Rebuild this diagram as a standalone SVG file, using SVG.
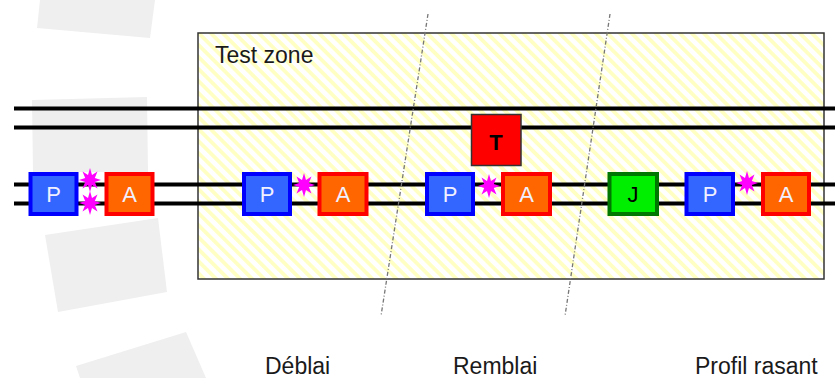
<svg xmlns="http://www.w3.org/2000/svg" width="835" height="378" viewBox="0 0 835 378">
  <style>
    .mark { fill: #efefef; }
    .rail { stroke: #000; stroke-width: 4; }
    .lbl { font-family: "Liberation Sans", Arial, sans-serif; font-size: 23px; fill: #1a1a1a; }
    .box-txt { font-family: "Liberation Sans", Arial, sans-serif; font-size: 22px; text-anchor: middle; }
    .p rect { fill: #3366ff; stroke: #0000ff; stroke-width: 4; }
    .a rect { fill: #ff6600; stroke: #ff0000; stroke-width: 4; }
    .j rect { fill: #00ee00; stroke: #007700; stroke-width: 4; }
    .t rect { fill: #ff0000; stroke: #333; stroke-width: 1.5; }
    .light { fill: #f0f0ff; }
    .dark { fill: #000; }
    .split { stroke: #777; stroke-width: 1.3; stroke-dasharray: 4 2 1 2; fill: none; }
  </style>
  <defs>
    <pattern id="hatch" width="8.5" height="8.5" patternUnits="userSpaceOnUse" patternTransform="rotate(45)">
      <rect width="8.5" height="8.5" fill="#ffffff"/>
      <rect width="8.5" height="3.8" fill="#ffffc4"/>
    </pattern>
    <polygon id="burst" fill="#ff00ff" points="0,-12 2,-5 7.5,-8.5 4.8,-2 11,0 4.8,2 7.5,8.5 2,5 0,12 -2,5 -7.5,8.5 -4.8,2 -11,0 -4.8,-2 -7.5,-8.5 -2,-5"/>
  </defs>

  <!-- faint background marks -->
  <g id="background">
    <polygon class="mark" points="40,0 155,0 150,38 37,28"/>
    <polygon class="mark" points="32,100 147,97 148,172 33,172"/>
    <polygon class="mark" points="45,235 158,218 167,292 58,312"/>
    <polygon class="mark" points="76,366 186,332 206,378 80,378"/>
  </g>

  <!-- test zone area -->
  <g id="test-zone">
    <rect x="198" y="33" width="626" height="246" fill="url(#hatch)" stroke="#333" stroke-width="1.5"/>
    <text class="lbl" x="215" y="63">Test zone</text>
  </g>

  <!-- rails and section dividers -->
  <g id="connectors">
    <line class="rail" x1="14" y1="108.5" x2="835" y2="108.5"/>
    <line class="rail" x1="14" y1="127.5" x2="835" y2="127.5"/>
    <line class="rail" x1="14" y1="184.5" x2="835" y2="184.5"/>
    <line class="rail" x1="14" y1="203.5" x2="835" y2="203.5"/>
    <line class="split" x1="428" y1="14" x2="381" y2="316"/>
    <line class="split" x1="610" y1="14" x2="565" y2="316"/>
  </g>

  <!-- outside group -->
  <g id="p1" class="p"><rect x="30.5" y="174" width="46" height="40"/><text class="box-txt light" x="53.5" y="201.5">P</text></g>
  <g id="a1" class="a"><rect x="106.5" y="174" width="46" height="40"/><text class="box-txt light" x="129.5" y="201.5">A</text></g>
  <g id="s1a"><use href="#burst" x="90" y="180"/></g>
  <g id="s1b"><use href="#burst" x="90" y="203"/></g>

  <!-- Déblai group -->
  <g id="p2" class="p"><rect x="244" y="174" width="46" height="40"/><text class="box-txt light" x="267" y="201.5">P</text></g>
  <g id="a2" class="a"><rect x="319.5" y="174" width="47" height="40"/><text class="box-txt light" x="343" y="201.5">A</text></g>
  <g id="s2"><use href="#burst" x="304" y="185"/></g>

  <!-- Remblai group -->
  <g id="t" class="t"><rect x="471.5" y="114.5" width="49.5" height="51"/><text class="box-txt dark" x="496" y="150" font-weight="bold" font-size="27">T</text></g>
  <g id="p3" class="p"><rect x="427" y="174" width="46" height="40"/><text class="box-txt light" x="450" y="201.5">P</text></g>
  <g id="a3" class="a"><rect x="503" y="174" width="47" height="40"/><text class="box-txt light" x="526.5" y="201.5">A</text></g>
  <g id="s3"><use href="#burst" x="489" y="186"/></g>

  <!-- Profil rasant group -->
  <g id="j" class="j"><rect x="609.5" y="174" width="47.5" height="40"/><text class="box-txt dark" x="633" y="201.5">J</text></g>
  <g id="p4" class="p"><rect x="686.5" y="174" width="46.5" height="40"/><text class="box-txt light" x="710" y="201.5">P</text></g>
  <g id="a4" class="a"><rect x="763" y="174" width="46" height="40"/><text class="box-txt light" x="786" y="201.5">A</text></g>
  <g id="s4"><use href="#burst" x="747" y="183"/></g>

  <!-- section labels -->
  <g id="labels">
    <text class="lbl" x="265" y="374">Déblai</text>
    <text class="lbl" x="453" y="374">Remblai</text>
    <text class="lbl" x="695" y="374">Profil rasant</text>
  </g>
</svg>
